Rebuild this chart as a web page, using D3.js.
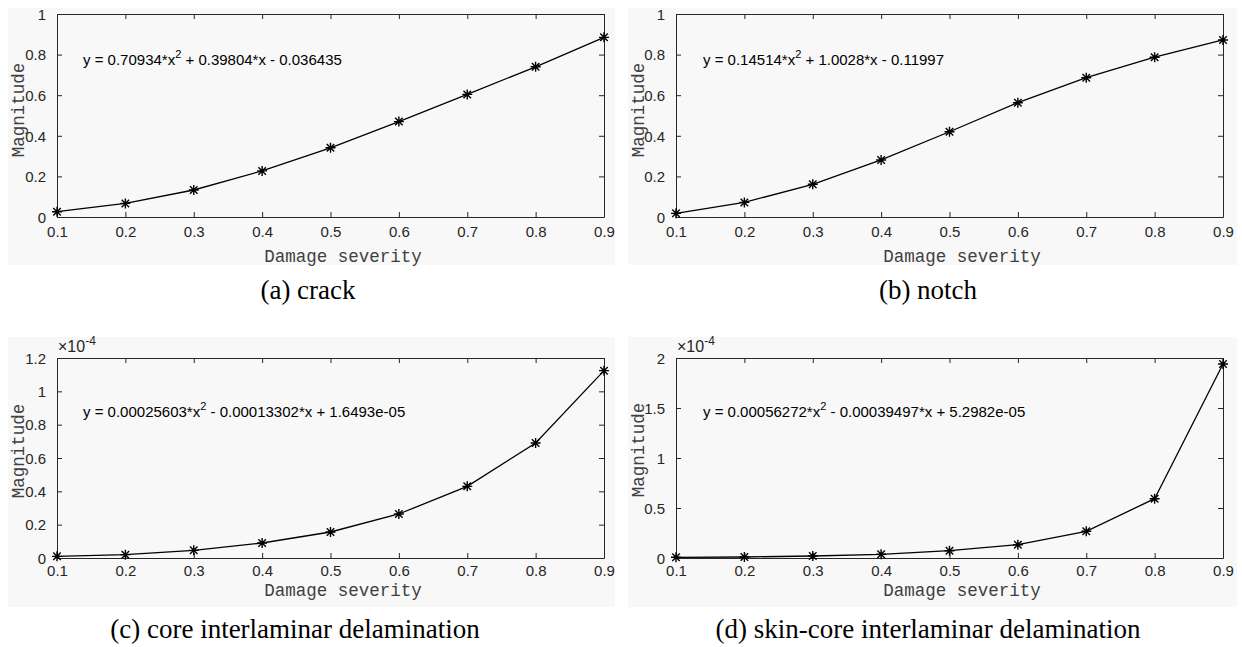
<!DOCTYPE html>
<html><head><meta charset="utf-8">
<script src="https://cdn.jsdelivr.net/npm/d3@7"></script>
<style>body{margin:0;background:#fff} .tk text{font-size:15px;font-family:'Liberation Sans',Arial,sans-serif}</style>
</head><body>
<svg id="chart" width="1242" height="647"></svg>
<script>
// ---------- data ----------
const severity = [0.1, 0.2, 0.3, 0.4, 0.5, 0.6, 0.7, 0.8, 0.9];
const xTickLabels = ["0.1","0.2","0.3","0.4","0.5","0.6","0.7","0.8","0.9"];

const crackMagnitude = [0.026, 0.067, 0.133, 0.227, 0.341, 0.470, 0.604, 0.740, 0.885];
const notchMagnitude = [0.018, 0.072, 0.161, 0.281, 0.420, 0.563, 0.686, 0.787, 0.872];
const coreMagnitude = [0.010e-4, 0.020e-4, 0.046e-4, 0.090e-4, 0.156e-4, 0.264e-4, 0.430e-4, 0.690e-4, 1.124e-4];
const skinCoreMagnitude = [0.007e-4, 0.010e-4, 0.020e-4, 0.037e-4, 0.073e-4, 0.133e-4, 0.267e-4, 0.593e-4, 1.940e-4];

const yTicksUnit = [0, 0.2, 0.4, 0.6, 0.8, 1];
const yTickLabelsUnit = ["0","0.2","0.4","0.6","0.8","1"];
const yTicksCore = [0, 0.2e-4, 0.4e-4, 0.6e-4, 0.8e-4, 1e-4, 1.2e-4];
const yTickLabelsCore = ["0","0.2","0.4","0.6","0.8","1","1.2"];
const yTicksSkin = [0, 0.5e-4, 1e-4, 1.5e-4, 2e-4];
const yTickLabelsSkin = ["0","0.5","1","1.5","2"];

const equationA = ["y = 0.70934*x", "2", " + 0.39804*x - 0.036435"];
const equationB = ["y = 0.14514*x", "2", " + 1.0028*x - 0.11997"];
const equationC = ["y = 0.00025603*x", "2", " - 0.00013302*x + 1.6493e-05"];
const equationD = ["y = 0.00056272*x", "2", " - 0.00039497*x + 5.2982e-05"];

const captions = ["(a) crack", "(b) notch", "(c) core interlaminar delamination", "(d) skin-core interlaminar delamination"];
const xLabel = "Damage severity";
const yLabel = "Magnitude";

// ---------- layout ----------
const panels = [
  {values: crackMagnitude, yTicks: yTicksUnit, yLabels: yTickLabelsUnit, yMax: 1, eq: equationA, cap: captions[0], exp: null,
   bg:[8,8,615,265], ax:[57,604,14,217], pad:9, eqPos:[83,65], xlab:[343,262], ylab:[18,110], capPos:[308,299]},
  {values: notchMagnitude, yTicks: yTicksUnit, yLabels: yTickLabelsUnit, yMax: 1, eq: equationB, cap: captions[1], exp: null,
   bg:[628,8,1237,265], ax:[676,1223,14,217], pad:9, eqPos:[703,65], xlab:[962,262], ylab:[638,110], capPos:[928,299]},
  {values: coreMagnitude, yTicks: yTicksCore, yLabels: yTickLabelsCore, yMax: 1.2e-4, eq: equationC, cap: captions[2], exp: "-4",
   bg:[8,337,615,607], ax:[57,604,358,558], pad:7, eqPos:[83,417], xlab:[343,596], ylab:[18,451], capPos:[295,638]},
  {values: skinCoreMagnitude, yTicks: yTicksSkin, yLabels: yTickLabelsSkin, yMax: 2e-4, eq: equationD, cap: captions[3], exp: "-4",
   bg:[628,337,1237,607], ax:[676,1223,358,558], pad:7, eqPos:[703,417], xlab:[962,596], ylab:[638,450], capPos:[928,638]}
];

const svg = d3.select("#chart");
const sans = "'Liberation Sans', Arial, Helvetica, sans-serif";
const mono = "'Liberation Mono', 'Courier New', Courier, monospace";
const serif = "'Liberation Serif', 'Times New Roman', Times, serif";
const axisColor = "#262626";

panels.forEach(p => {
  const [bx0, by0, bx1, by1] = p.bg;
  const [L, R, T, B] = p.ax;
  const g = svg.append("g");
  g.append("rect").attr("x", bx0).attr("y", by0).attr("width", bx1 - bx0).attr("height", by1 - by0).attr("fill", "#f8f8f8");

  const x = d3.scaleLinear().domain([0.1, 0.9]).range([L, R]);
  const y = d3.scaleLinear().domain([0, p.yMax]).range([B, T]);

  // axes (box with inward ticks)
  const xb = d3.axisBottom(x).tickValues(severity).tickSizeInner(-5).tickSizeOuter(0).tickPadding(p.pad)
    .tickFormat((d, i) => xTickLabels[i]);
  const xt = d3.axisTop(x).tickValues(severity).tickSizeInner(-5).tickSizeOuter(0).tickFormat("");
  const yl = d3.axisLeft(y).tickValues(p.yTicks).tickSizeInner(-5).tickSizeOuter(0).tickPadding(11)
    .tickFormat((d, i) => p.yLabels[i]);
  const yr = d3.axisRight(y).tickValues(p.yTicks).tickSizeInner(-5).tickSizeOuter(0).tickFormat("");

  const gx = g.append("g").attr("class", "tk").attr("transform", `translate(0,${B})`).call(xb);
  g.append("g").attr("transform", `translate(0,${T})`).call(xt);
  const gy = g.append("g").attr("class", "tk").attr("transform", `translate(${L},0)`).call(yl);
  g.append("g").attr("transform", `translate(${R},0)`).call(yr);
  gx.attr("font-size", 15).attr("font-family", sans);
  gy.attr("font-size", 15).attr("font-family", sans);
  g.selectAll(".domain, .tick line").attr("stroke", axisColor).attr("stroke-width", 1);
  g.selectAll(".tick text").attr("fill", axisColor);
  gy.selectAll(".tick text").attr("dy", "0.35em");

  // exponent label
  if (p.exp) {
    const t = g.append("text").attr("x", L + 1).attr("y", T - 6).attr("fill", axisColor)
      .style("font-family", sans).style("font-size", "16px");
    t.append("tspan").text("\u00d710");
    t.append("tspan").attr("dy", -7).style("font-size", "12px").text(p.exp);
  }

  // axis labels
  g.append("text").attr("x", p.xlab[0]).attr("y", p.xlab[1]).attr("text-anchor", "middle")
    .attr("fill", "#404040").style("font-family", mono).style("font-size", "17.5px").text(xLabel);
  g.append("text").attr("transform", `translate(${p.ylab[0] + 6},${p.ylab[1]}) rotate(-90)`).attr("text-anchor", "middle")
    .attr("fill", "#404040").style("font-family", mono).style("font-size", "17.5px").text(yLabel);

  // line + markers
  const pts = severity.map((s, i) => [s, p.values[i]]);
  g.append("path").datum(pts).attr("fill", "none").attr("stroke", "#000").attr("stroke-width", 1.3)
    .attr("d", d3.line().x(d => x(d[0])).y(d => y(d[1])));
  const r = 5, rd = r * 0.75;
  const star = `M${-r},0L${r},0M0,${-r}L0,${r}M${-rd},${-rd}L${rd},${rd}M${-rd},${rd}L${rd},${-rd}`;
  g.selectAll(".mk").data(pts).enter().append("path")
    .attr("transform", d => `translate(${x(d[0])},${y(d[1])})`)
    .attr("d", star).attr("stroke", "#000").attr("stroke-width", 1.4).attr("fill", "none");

  // equation
  const e = g.append("text").attr("x", p.eqPos[0]).attr("y", p.eqPos[1]).attr("fill", "#000")
    .style("font-family", sans).style("font-size", "15px");
  e.append("tspan").text(p.eq[0]);
  e.append("tspan").attr("dy", -7).style("font-size", "11px").text(p.eq[1]);
  e.append("tspan").attr("dy", 7).text(p.eq[2]);

  // caption
  svg.append("text").attr("x", p.capPos[0]).attr("y", p.capPos[1]).attr("text-anchor", "middle")
    .attr("fill", "#000").style("font-family", serif).style("font-size", "27px").text(p.cap);
});
</script>
</body></html>
